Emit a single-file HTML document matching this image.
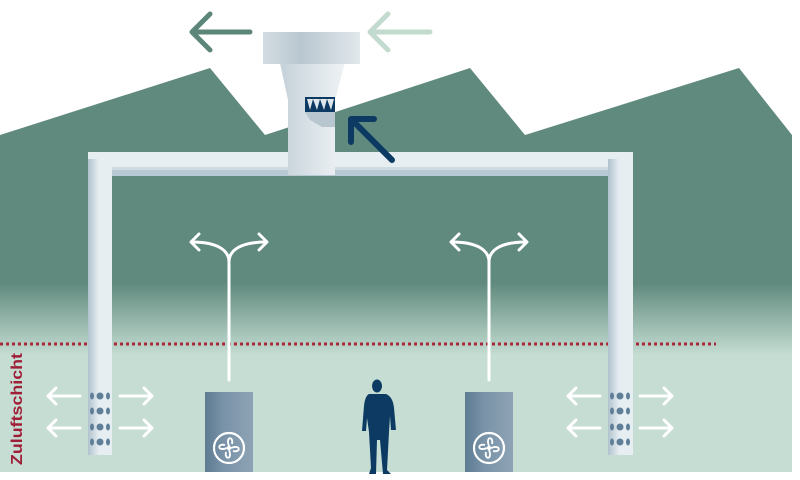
<!DOCTYPE html>
<html><head><meta charset="utf-8"><style>
html,body{margin:0;padding:0;background:#fff;width:800px;height:480px;overflow:hidden}
</style></head><body>
<svg width="800" height="480" viewBox="0 0 800 480" xmlns="http://www.w3.org/2000/svg" font-family="Liberation Sans, sans-serif">
<defs>
<linearGradient id="bg" x1="0" y1="0" x2="0" y2="480" gradientUnits="userSpaceOnUse">
<stop offset="0" stop-color="#618a7e"/><stop offset="0.59" stop-color="#618a7e"/>
<stop offset="0.74" stop-color="#c5ddd2"/><stop offset="1" stop-color="#c5ddd2"/></linearGradient>
<linearGradient id="pv" x1="0" x2="1" y1="0" y2="0"><stop offset="0" stop-color="#b0c2cd"/><stop offset="0.45" stop-color="#e6eef2"/><stop offset="1" stop-color="#e6eef2"/></linearGradient>
<linearGradient id="ph" x1="0" x2="0" y1="0" y2="1"><stop offset="0" stop-color="#e6eef2"/><stop offset="0.55" stop-color="#e6eef2"/><stop offset="1" stop-color="#aebfcb"/></linearGradient>
<linearGradient id="ch" x1="0" x2="1" y1="0" y2="0"><stop offset="0" stop-color="#c4d0d8"/><stop offset="0.5" stop-color="#dbe3e8"/><stop offset="1" stop-color="#eef2f4"/></linearGradient>
<linearGradient id="cap" x1="0" x2="1" y1="0" y2="0"><stop offset="0" stop-color="#d3dce2"/><stop offset="0.4" stop-color="#b9c7d0"/><stop offset="1" stop-color="#e2e8ec"/></linearGradient>
<linearGradient id="fan" x1="0" x2="1" y1="0" y2="0"><stop offset="0" stop-color="#5d7b92"/><stop offset="0.4" stop-color="#7a93a8"/><stop offset="1" stop-color="#8ea3b5"/></linearGradient>
<g id="fanic"><circle r="15" fill="none" stroke="#fff" stroke-width="2.2"/><g fill="none" stroke="#fff" stroke-width="1.8"><path d="M0,-2 C-4,-12 5,-12 3,-4"/><path d="M2,0 C12,-4 12,5 4,3"/><path d="M0,2 C4,12 -5,12 -3,4"/><path d="M-2,0 C-12,4 -12,-5 -4,-3"/></g><circle r="2.2" fill="#fff"/></g>
<g id="bra" fill="none" stroke="#fff" stroke-width="3" stroke-linecap="round" stroke-linejoin="round"><path d="M0,140 V22 C0,10 -12,2 -37,2 M0,22 C0,10 12,2 37,2"/><path d="M-30,-6 L-38,2 L-30,10 M30,-6 L38,2 L30,10"/></g>
<g id="sa" fill="none" stroke="#fff" stroke-width="3" stroke-linecap="round" stroke-linejoin="round"><path d="M0,0 H32 M24,-8 L32,0 L24,8 M-40,0 H-72 M-64,-8 L-72,0 L-64,8"/></g>
<g id="dots" fill="#5f7f99"><ellipse cx="-8" cy="0" rx="2" ry="3.5"/><ellipse cx="0" cy="0" rx="3.5" ry="3.5"/><ellipse cx="8" cy="0" rx="2" ry="3.5"/></g>
</defs>
<polygon points="0,135 210,68 265,135 470,68 525,135 739,68 792,135 792,472 0,472" fill="url(#bg)"/>
<line x1="0" y1="344" x2="716" y2="344" stroke="#a8283a" stroke-width="3" stroke-dasharray="3 3"/>
<!-- pipes -->
<rect x="88" y="152" width="24" height="303" fill="url(#pv)"/>
<rect x="608" y="152" width="25" height="303" fill="url(#pv)"/>
<rect x="88" y="152" width="545" height="7" fill="#e6eef2"/>
<rect x="112" y="152" width="496" height="15" fill="#e6eef2"/>
<rect x="112" y="167" width="496" height="9" fill="#b9c9d3"/>
<rect x="112" y="167" width="496" height="3" fill="#cfdbe2"/>
<use href="#dots" x="100" y="396"/><use href="#dots" x="100" y="411"/><use href="#dots" x="100" y="427"/><use href="#dots" x="100" y="442"/>
<use href="#dots" x="620" y="396"/><use href="#dots" x="620" y="411"/><use href="#dots" x="620" y="427"/><use href="#dots" x="620" y="442"/>
<use href="#sa" x="120" y="396"/><use href="#sa" x="120" y="428"/>
<use href="#sa" x="640" y="396"/><use href="#sa" x="640" y="428"/>
<!-- chimney -->
<polygon points="280,63 345,63 335,100 335,175 288,175 288,100" fill="url(#ch)"/>
<rect x="263" y="32" width="97" height="32" fill="url(#cap)"/>
<rect x="305" y="97" width="30" height="15" fill="#0c3a63"/>
<polygon points="307,99 310,110 313,99 317,110 320,99 324,110 327,99 331,110 334,99" fill="#dfe7ec"/>
<polygon points="305,112 335,112 335,127 322,127 310,120" fill="#b8c6d0"/>
<!-- top arrows -->
<g fill="none" stroke-width="5" stroke-linecap="round" stroke-linejoin="round">
<path d="M250,32 H192 M210,14 L192,32 L210,50" stroke="#5c8679"/>
<path d="M430,32 H370 M388,14 L370,32 L388,50" stroke="#c3dbcf"/>
<path d="M392,160 L352,120 M351,142 V119 H374" stroke="#0c3a63" stroke-width="6"/>
</g>
<!-- fans -->
<rect x="205" y="392" width="48" height="80" fill="url(#fan)"/>
<rect x="465" y="392" width="48" height="80" fill="url(#fan)"/>
<use href="#fanic" x="229" y="448"/><use href="#fanic" x="489" y="448"/>
<use href="#bra" x="229" y="240"/><use href="#bra" x="489" y="240"/>
<!-- person -->
<g fill="#0c3a63">
<ellipse cx="377" cy="386" rx="5" ry="6.5"/>
<path d="M369,394 L386,394 Q393,397 394,408 L396,430 L391,430 L390,416 L389,432 L387,470 L391,474 L383,474 L380,440 L377,440 L376,474 L369,474 L371,468 L369,432 L367,418 L366,431 L362,431 L364,406 Q365,396 369,394 Z"/>
</g>
<text transform="translate(22,465) rotate(-90)" font-size="16" font-weight="bold" fill="#a01f38" textLength="112" lengthAdjust="spacingAndGlyphs">Zuluftschicht</text>
</svg>
</body></html>
